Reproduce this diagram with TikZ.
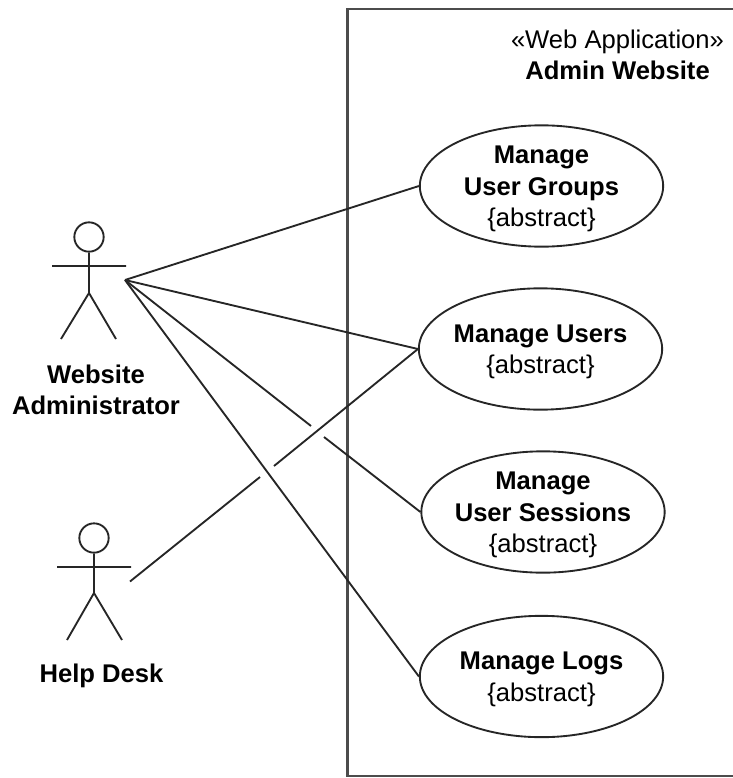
\documentclass[tikz,border=0pt]{standalone}
\usepackage{fontspec}
\setmainfont{Liberation Sans}
\usetikzlibrary{shapes.geometric}
\newcommand{\lowertext}{\rule{0pt}{17.6pt}}
\tikzset{
  px/.style={x=0.75pt,y=-0.75pt},
  ln/.style={draw=black!85,line width=1.4pt},
  usecase/.style={ellipse,ln,fill=white,minimum width=182.5pt,minimum height=91pt,inner xsep=-30pt,inner ysep=-25pt,align=center,font=\fontsize{19.2pt}{23.6pt}\selectfont},
  label/.style={align=center,inner sep=0pt,font=\fontsize{19.2pt}{23.6pt}\selectfont\bfseries},
  head/.style={circle,ln,minimum size=22pt,inner sep=0pt}
}
\begin{document}
\begin{tikzpicture}[px]
\useasboundingbox (0,0) rectangle (732,778);
\draw[ln,draw=black!70,line width=1.6pt] (740,9) -- (347.5,9) -- (347.5,776) -- (740,776);
\node[align=center,inner sep=0,font=\fontsize{19.2pt}{23.6pt}\selectfont] (title) at (617.5,55) {«Web Application»\\\textbf{Admin Website}};
% Actors
\node[head] (adminhead) at (89,237) {};
\coordinate (adminhip) at (89,293);
\coordinate (adminL) at (52,266);
\coordinate (adminR) at (126,266);
\coordinate (adminfootL) at (61,339);
\coordinate (adminfootR) at (116,339);
\draw[ln] (adminhead) -- (adminhip) (adminL) -- (adminR) (adminfootL) -- (adminhip) -- (adminfootR);
\node[label] (adminlabel) at (96,390) {Website\\Administrator};
\node[head] (helphead) at (94,538) {};
\coordinate (helphip) at (94,593);
\coordinate (helpL) at (57,567);
\coordinate (helpR) at (131,567);
\coordinate (helpfootL) at (67,640);
\coordinate (helpfootR) at (122,640);
\draw[ln] (helphead) -- (helphip) (helpL) -- (helpR) (helpfootL) -- (helphip) -- (helpfootR);
\node[label] (helplabel) at (101.5,676) {Help Desk};
% Use cases
\node[usecase] (groups) at (541.5,186) {\lowertext\textbf{Manage}\\\textbf{User Groups}\\{\{abstract\}}};
\node[usecase] (users) at (540.5,349) {\lowertext\textbf{Manage Users}\\{\{abstract\}}};
\node[usecase] (sessions) at (543,512) {\lowertext\textbf{Manage}\\\textbf{User Sessions}\\{\{abstract\}}};
\node[usecase] (logs) at (541.5,676.5) {\lowertext\textbf{Manage Logs}\\{\{abstract\}}};
% Connectors
\coordinate (admin) at (125,280);
\coordinate (help) at (130,581.5);
\coordinate (sessgapA) at (311,426);
\coordinate (sessgapB) at (324,437);
\coordinate (helpgapA) at (260,477);
\coordinate (helpgapB) at (274,466);
\draw[ln] (admin) -- (groups.west);
\draw[ln] (admin) -- (users.west);
\draw[ln] (admin) -- (sessgapA);
\draw[ln] (sessgapB) -- (sessions.west);
\draw[ln] (admin) -- (logs.west);
\draw[ln] (help) -- (helpgapA);
\draw[ln] (helpgapB) -- (users.west);
\end{tikzpicture}
\end{document}
